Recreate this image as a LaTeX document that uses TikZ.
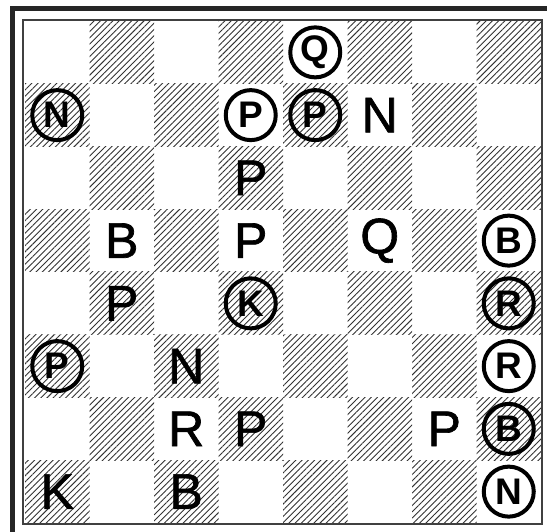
\documentclass[tikz,border=0pt]{standalone}
\usepackage{fontspec}
\setmainfont{Liberation Sans}
\newfontfamily\handfont[FakeBold=1.3]{Liberation Sans}
\usetikzlibrary{patterns.meta}
\tikzset{
  darksq/.style={pattern={Lines[angle=45,distance=4.4pt,line width=0.9pt]},pattern color=black!80},
  pc/.style={inner sep=0pt,font=\handfont\fontsize{50}{50}\selectfont},
  cpc/.style={circle,draw,line width=4pt,minimum size=50pt,inner sep=0pt,font=\fontsize{37}{37}\selectfont\bfseries},
  outerline/.style={line width=4.5pt,black!85},
  innerline/.style={line width=1.1pt,black!75}
}
\begin{document}
\begin{tikzpicture}[x=1pt,y=-1pt]
\useasboundingbox (0,0) rectangle (547,532);
\fill[white] (0,0) rectangle (547,532);
% hatched squares
\foreach \r in {1,...,8}{
  \foreach \c in {1,...,8}{
    \pgfmathtruncatemacro\odd{mod(\r+\c,2)}
    \ifnum\odd=1
      \fill[darksq] ({25+(\c-1)*64.5},{21+(\r-1)*62.75}) rectangle ++(64.5,62.75);
    \fi
  }
}
% frames
\coordinate (oTL) at (12.5,8.5);
\coordinate (oTR) at (547,8.5);
\coordinate (oBL) at (12.5,532);
\draw[outerline] (oBL) -- (oTL) -- (oTR);
\coordinate (iTL) at (23,20);
\coordinate (iBR) at (542,524);
\draw[innerline] (iTL) rectangle (iBR);
% plain pieces
\foreach \r/\c/\l in {2/6/N, 3/4/P, 4/2/B, 4/4/P, 4/6/Q, 5/2/P, 6/3/N, 7/3/R, 7/4/P, 7/7/P, 8/1/K, 8/3/B}{
  \node[pc] (p\r\c) at ({25+(\c-0.5)*64.5},{21+(\r-0.5)*62.75}) {\l};
}
% circled pieces
\foreach \r/\c/\l in {1/5/Q, 2/1/N, 2/4/P, 2/5/P, 4/8/B, 5/4/K, 5/8/R, 6/1/P, 6/8/R, 7/8/B, 8/8/N}{
  \node[cpc] (c\r\c) at ({25+(\c-0.5)*64.5},{21+(\r-0.5)*62.75}) {\l};
}
\end{tikzpicture}
\end{document}
